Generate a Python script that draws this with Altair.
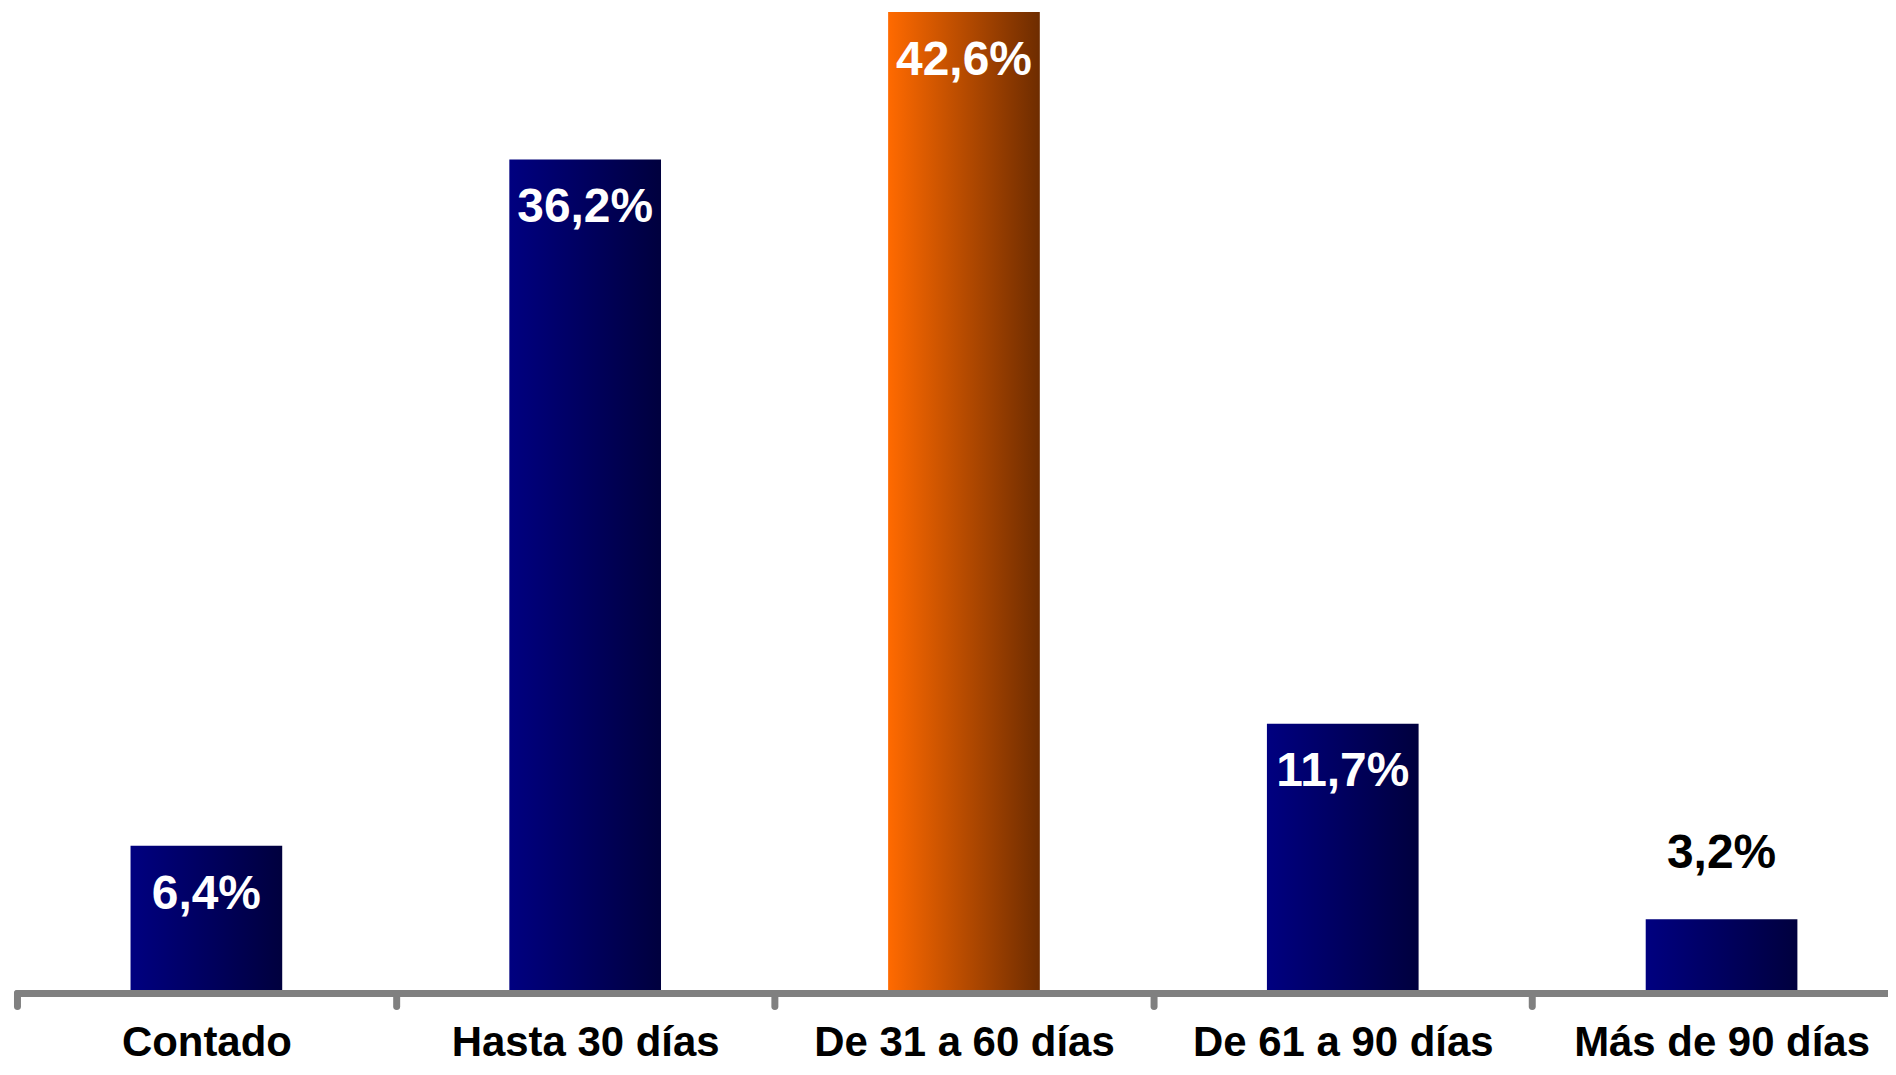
import altair as alt
import pandas as pd

categories = ["Contado", "Hasta 30 días", "De 31 a 60 días", "De 61 a 90 días", "Más de 90 días"]
values = [6.4, 36.2, 42.6, 11.7, 3.2]
highlight = [False, False, True, False, False]
label_inside = [True, True, True, True, False]

df = pd.DataFrame({
    "cat": categories,
    "val": values,
    "hl": highlight,
    "inside": label_inside,
    "label": [f"{v:.1f}".replace(".", ",") + "%" for v in values],
})

FONT = "Liberation Sans"

navy = alt.LinearGradient(
    gradient="linear",
    stops=[alt.GradientStop(color="#000080", offset=0),
           alt.GradientStop(color="#00003E", offset=1)],
    x1=0, x2=1, y1=0, y2=0,
)
orange = alt.LinearGradient(
    gradient="linear",
    stops=[alt.GradientStop(color="#FF6A00", offset=0),
           alt.GradientStop(color="#6E2C00", offset=1)],
    x1=0, x2=1, y1=0, y2=0,
)

x = alt.X(
    "cat:N",
    sort=categories,
    scale=alt.Scale(range=[0, 1898], paddingInner=0, paddingOuter=0),
    axis=alt.Axis(
        title=None,
        tickBand="extent",
        domainColor="#808080",
        domainWidth=7,
        domainCap="round",
        tickColor="#808080",
        tickWidth=7,
        tickSize=13,
        tickCap="round",
        labelFont=FONT,
        labelFontSize=42,
        labelFontWeight="bold",
        labelColor="black",
        labelBaseline="alphabetic",
        labelPadding=50,
        labelAngle=0,
        labelOverlap=False,
        labelFlush=False,
        labelLimit=0,
        zindex=1,
    ),
)
y = alt.Y("val:Q", scale=alt.Scale(domain=[0, 42.73], nice=False, zero=True), axis=None)

base = alt.Chart(df).encode(x=x, y=y)

bars_navy = base.transform_filter("!datum.hl").mark_bar(size=152, color=navy)
bars_orange = base.transform_filter("datum.hl").mark_bar(size=152, color=orange)

txt_in = base.transform_filter("datum.inside").mark_text(
    dy=63, baseline="alphabetic", align="center", color="white",
    font=FONT, fontSize=48, fontWeight="bold"
).encode(text="label:N")

txt_out = base.transform_filter("!datum.inside").mark_text(
    dy=-51, baseline="alphabetic", align="center", color="black",
    font=FONT, fontSize=48, fontWeight="bold"
).encode(text="label:N")

chart = alt.layer(bars_navy, bars_orange, txt_in, txt_out).properties(
    width=1875,
    height=986,
    autosize=alt.AutoSizeParams(type="none"),
    padding={"left": 9, "top": 0, "right": 0, "bottom": 73},
).configure_view(stroke=None)

chart.save("out.html", embed_options={"renderer": "svg", "actions": False})
